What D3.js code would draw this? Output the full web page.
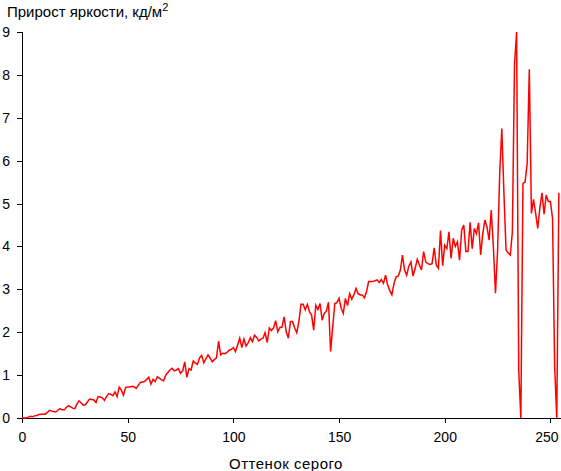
<!DOCTYPE html>
<html>
<head>
<meta charset="utf-8">
<script src="https://cdn.jsdelivr.net/npm/d3@7"></script>
<style>
  html, body { margin: 0; padding: 0; background: #fff; }
  svg { display: block; }
  text { font-family: "Liberation Sans", Arial, sans-serif; fill: #000; }
</style>
</head>
<body>
<svg id="chart" width="561" height="471"></svg>
<script>
// ---- data ----
const titleText = "Прирост яркости, кд/м";
const titleSup = "2";
const xLabel = "Оттенок серого";
const xTicks = [0, 50, 100, 150, 200, 250];
const yTicks = [0, 1, 2, 3, 4, 5, 6, 7, 8, 9];
const seriesValues = [
  0, 0, 0, 0.02, 0.04, 0.03, 0.05, 0.06, 0.08, 0.09,
  0.09, 0.09, 0.13, 0.18, 0.16, 0.15, 0.14, 0.18, 0.22, 0.19,
  0.19, 0.25, 0.29, 0.26, 0.23, 0.22, 0.33, 0.40, 0.35, 0.30,
  0.31, 0.38, 0.44, 0.43, 0.42, 0.36, 0.50, 0.49, 0.47, 0.41,
  0.50, 0.57, 0.55, 0.52, 0.61, 0.50, 0.72, 0.65, 0.53, 0.71,
  0.72, 0.72, 0.74, 0.73, 0.69, 0.76, 0.83, 0.84, 0.85, 0.90,
  0.95, 0.79, 0.90, 0.85, 0.96, 0.93, 0.89, 0.87, 1.00, 1.06,
  1.12, 1.16, 1.10, 1.12, 1.15, 1.04, 1.10, 1.31, 0.95, 1.15,
  1.12, 1.33, 1.28, 1.25, 1.40, 1.46, 1.29, 1.38, 1.47, 1.40,
  1.31, 1.36, 1.40, 1.79, 1.47, 1.51, 1.50, 1.53, 1.58, 1.60,
  1.64, 1.55, 1.70, 1.86, 1.64, 1.84, 1.68, 1.75, 1.87, 1.78,
  1.93, 1.88, 1.80, 1.84, 1.86, 1.99, 1.76, 2.10, 2.04, 2.10,
  2.27, 2.01, 2.11, 2.12, 2.36, 2.01, 1.86, 2.25, 2.25, 2.10,
  1.99, 2.25, 2.65, 2.65, 2.52, 2.65, 2.48, 2.40, 2.05, 2.63,
  2.53, 2.67, 2.28, 2.44, 2.49, 2.70, 1.55, 2.13, 2.67, 2.69,
  2.79, 2.56, 2.44, 2.79, 2.62, 2.90, 2.77, 2.87, 3.02, 2.90,
  2.87, 2.87, 2.80, 2.95, 3.18, 3.18, 3.18, 3.20, 3.22, 3.16,
  3.23, 3.14, 3.33, 3.10, 2.97, 2.87, 3.14, 3.29, 3.31, 3.45,
  3.80, 3.45, 3.33, 3.54, 3.64, 3.31, 3.49, 3.70, 3.57, 3.45,
  3.88, 3.64, 3.60, 3.58, 3.60, 3.97, 3.57, 3.49, 4.37, 3.55,
  4.03, 3.95, 4.34, 3.72, 4.19, 4.00, 4.11, 3.68, 4.38, 4.50,
  3.88, 3.88, 4.56, 3.95, 4.42, 4.30, 4.55, 3.80, 4.30, 4.62,
  4.45, 4.15, 4.85, 3.99, 2.91, 3.90, 5.70, 6.75, 5.24, 3.92,
  3.85, 3.80, 4.34, 8.23, 9.00, 1.12, 0, 5.47, 5.50, 5.94,
  8.13, 4.77, 5.10, 4.77, 4.42, 4.90, 5.25, 4.75, 5.20, 5.05,
  5.05, 4.65, 1.20, 0, 5.25
];

// ---- chart ----
const svg = d3.select("#chart");
const x = d3.scaleLinear().domain([0, 255]).range([22, 561]);
const y = d3.scaleLinear().domain([0, 9]).range([418, 32]);

// title
const t = svg.append("text").attr("x", 7).attr("y", 17).style("font-size", "15px");
t.append("tspan").text(titleText);
t.append("tspan").attr("dy", -6).style("font-size", "11px").text(titleSup);

// y axis
const yAxis = svg.append("g").attr("transform", "translate(22,0)")
  .call(d3.axisLeft(y).tickValues(yTicks).tickSize(5).tickPadding(7).tickFormat(d3.format("d")));
// x axis
const xAxis = svg.append("g").attr("transform", "translate(0,418)")
  .call(d3.axisBottom(x).tickValues(xTicks).tickSize(5).tickPadding(9).tickFormat(d3.format("d")));

[yAxis, xAxis].forEach(g => {
  g.select(".domain").attr("stroke", "#000").attr("shape-rendering", "crispEdges");
  g.selectAll(".tick line").attr("stroke", "#000").attr("shape-rendering", "crispEdges");
  g.selectAll(".tick text").style("font-size", "14px")
    .style("font-family", "'Liberation Sans', Arial, sans-serif").attr("fill", "#000");
});
// keep the last x tick label inside the picture
xAxis.selectAll(".tick text").filter(d => d === 250).attr("dx", -4);

// x label
svg.append("text").attr("x", 286).attr("y", 469).attr("text-anchor", "middle")
  .style("font-size", "15px").style("letter-spacing", "0.5px").text(xLabel);

// line
const line = d3.line().x((d, i) => x(i)).y(d => y(d));
svg.append("path").datum(seriesValues)
  .attr("fill", "none").attr("stroke", "#ff0000").attr("stroke-width", 1.5)
  .attr("stroke-linejoin", "miter").attr("d", line);
</script>
</body>
</html>
